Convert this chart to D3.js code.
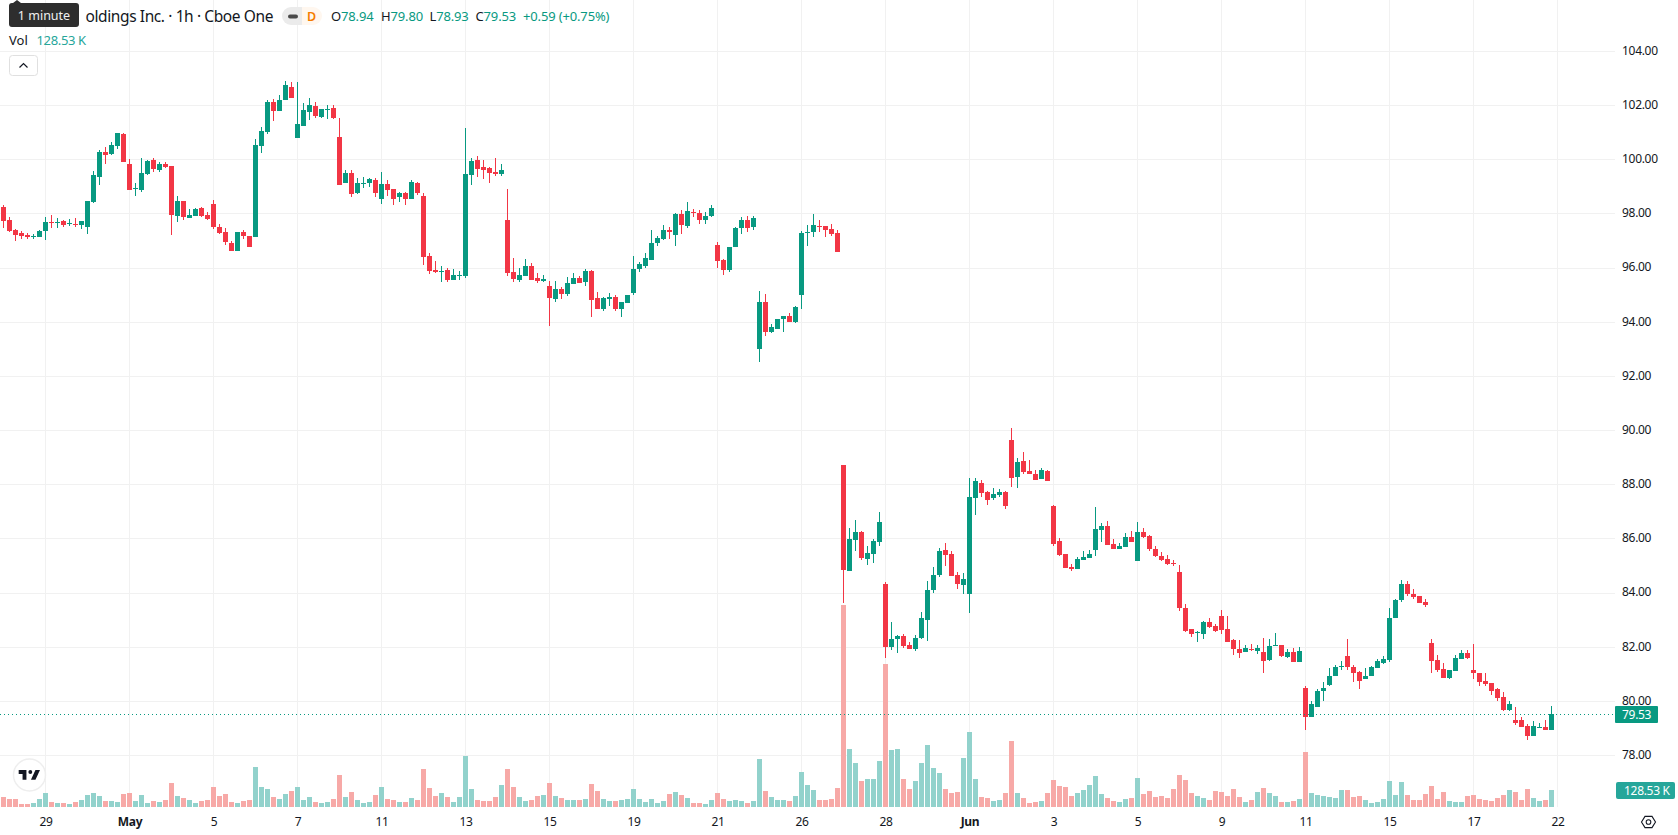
<!DOCTYPE html>
<html>
<head>
<meta charset="utf-8">
<title>Candlestick chart</title>
<script src="https://cdn.jsdelivr.net/npm/d3@7"></script>
<style>
  html, body { margin: 0; padding: 0; background: #fff; }
  svg { display: block; }
  text { font-family: "Noto Sans", sans-serif; fill: #131722; }
</style>
</head>
<body>
<svg id="chart" width="1678" height="835"></svg>
<script>
// Hourly open / high / low / close, one entry per session bar
const opens = [
98.23,97.75,97.38,97.27,97.20,97.14,97.12,97.35,97.68,97.66,
97.72,97.61,97.61,97.57,97.49,98.42,99.35,100.27,100.20,100.49,
100.94,99.83,98.91,98.86,99.46,99.98,99.60,99.83,99.75,97.90,
98.46,97.83,97.90,98.20,97.94,98.35,97.49,97.31,96.90,96.60,
97.31,97.16,97.12,100.49,101.01,102.12,101.79,102.20,102.68,100.79,
101.23,101.75,101.98,101.57,101.84,101.90,100.83,99.12,99.49,98.75,
99.09,99.12,99.23,98.53,99.09,98.90,98.60,98.75,98.53,99.12,
98.64,96.42,95.90,95.85,95.90,95.53,95.70,95.68,99.42,99.98,
99.72,99.68,99.53,99.46,97.75,95.83,95.53,95.68,96.05,95.60,
95.49,95.31,94.83,95.20,95.01,95.38,95.60,95.46,95.86,94.86,
94.49,94.83,94.90,94.46,94.68,95.05,95.94,96.05,96.27,96.90,
97.05,97.38,97.20,97.98,97.53,98.05,98.01,97.75,97.90,96.83,
96.27,95.90,96.75,97.46,97.75,97.49,93.01,94.72,93.64,93.75,
94.12,94.20,93.98,94.98,97.27,97.31,97.53,97.53,97.42,97.27,
88.72,84.79,85.94,86.23,85.23,85.42,85.86,84.31,81.98,82.27,
82.38,82.05,81.90,82.31,82.98,84.09,84.64,85.57,85.42,84.64,
84.27,83.94,87.49,88.05,87.72,87.49,87.60,87.72,89.64,88.27,
88.86,88.49,88.38,88.20,88.49,87.20,85.90,85.42,84.94,84.86,
85.20,85.27,85.57,86.31,86.46,85.79,85.60,85.68,86.05,85.16,
86.23,86.09,85.60,85.35,85.23,85.09,84.75,83.42,82.64,82.49,
82.46,82.90,82.75,83.12,82.64,82.23,81.90,81.79,81.90,81.85,
81.82,81.52,82.04,82.07,81.63,81.82,81.45,80.49,79.42,79.79,
80.38,80.60,80.93,81.28,81.67,81.26,81.08,80.79,80.90,81.23,
81.41,81.52,83.07,83.73,84.32,83.95,83.88,83.66,82.15,81.52,
81.19,80.86,81.12,81.56,81.78,81.15,81.01,80.75,80.67,80.42,
80.16,79.68,79.31,79.28,79.06,78.69,78.98,79.02,78.94];

const closes = [
97.72,97.35,97.20,97.16,97.12,97.16,97.35,97.68,97.65,97.69,
97.57,97.63,97.57,97.72,98.46,99.42,100.27,100.16,100.53,100.98,
99.90,98.86,98.94,99.49,99.94,99.64,99.83,99.72,97.94,98.46,
97.86,97.94,98.16,97.90,97.79,97.49,97.27,96.94,96.60,97.31,
97.16,96.75,100.53,101.05,102.12,101.79,102.20,102.75,102.27,101.31,
101.83,102.01,101.60,101.86,101.87,101.53,99.05,99.49,98.72,99.12,
99.11,99.27,98.75,99.09,98.86,98.53,98.75,98.53,99.16,98.75,
96.38,95.86,95.83,95.87,95.53,95.72,95.72,99.46,99.94,99.64,
99.60,99.49,99.46,99.60,95.79,95.57,95.72,96.05,95.53,95.49,
95.57,94.86,95.20,95.01,95.42,95.60,95.42,95.86,94.79,94.49,
94.86,94.90,94.46,94.72,94.98,95.94,96.12,96.35,96.90,97.09,
97.38,97.31,97.98,97.57,98.09,98.01,97.75,97.90,98.20,96.23,
95.90,96.75,97.46,97.75,97.46,97.83,94.72,93.64,93.79,94.12,
94.20,93.98,94.53,97.27,97.31,97.57,97.49,97.38,97.23,96.57,
84.83,85.98,86.23,85.27,85.46,85.90,86.60,81.98,82.27,82.38,
82.01,81.90,82.31,83.05,84.09,84.64,85.53,85.38,84.60,84.31,
84.49,87.53,88.12,87.68,87.42,87.64,87.72,87.20,88.23,88.83,
88.46,88.38,88.16,88.53,88.12,85.79,85.38,84.90,84.86,85.23,
85.31,85.42,86.35,86.46,85.75,85.60,85.72,86.05,85.86,86.23,
86.05,85.60,85.35,85.20,85.05,85.05,83.42,82.57,82.46,82.53,
82.90,82.72,82.57,82.60,82.16,81.90,81.75,81.94,81.86,81.96,
81.48,82.04,82.07,81.67,81.82,81.45,81.85,79.42,79.87,80.38,
80.49,80.93,81.26,81.30,81.26,81.04,80.75,80.93,81.26,81.48,
81.56,83.07,83.73,84.32,83.95,83.84,83.62,83.55,81.48,81.15,
80.86,81.15,81.60,81.78,81.60,81.01,80.71,80.64,80.38,80.12,
79.68,79.87,79.20,79.02,78.69,79.06,79.02,78.91,79.53];

const highs = [
98.31,97.86,97.42,97.35,97.27,97.23,97.38,97.86,97.94,97.83,
97.75,97.79,97.83,97.72,98.46,99.57,100.35,100.46,100.64,100.98,
100.98,100.01,99.12,100.05,99.98,100.05,99.90,99.90,99.75,98.64,
98.46,98.16,98.20,98.23,98.05,98.49,97.60,97.46,96.98,97.31,
97.38,97.16,100.75,101.20,102.20,102.23,102.38,102.90,102.86,102.86,
102.09,102.27,102.12,101.86,102.01,102.01,101.53,99.60,99.60,99.31,
99.35,99.31,99.31,99.53,99.23,98.90,98.79,98.79,99.23,99.16,
98.75,96.53,96.23,96.05,95.98,95.94,95.86,101.16,100.05,100.12,
99.98,99.72,100.05,99.83,98.90,96.35,95.98,96.31,96.16,95.79,
95.72,95.49,95.49,95.27,95.64,95.79,95.68,95.94,95.90,95.09,
94.90,95.05,94.98,94.72,94.98,96.42,96.20,96.53,97.38,97.16,
97.57,97.49,98.01,98.12,98.42,98.16,98.12,98.05,98.31,96.94,
96.31,96.75,97.49,97.86,97.90,97.90,95.12,95.01,93.90,94.12,
94.20,94.31,94.60,97.35,97.57,97.98,97.75,97.53,97.60,97.38,
88.72,86.38,86.68,86.27,85.72,85.98,86.98,84.38,82.90,82.42,
82.46,82.16,82.42,83.27,84.42,84.94,85.64,85.83,85.53,84.75,
84.72,88.23,88.23,88.16,87.75,87.86,87.83,87.75,90.09,88.98,
89.20,88.90,88.53,88.60,88.53,87.23,86.01,85.42,85.05,85.31,
85.53,85.57,87.16,86.57,86.64,85.98,85.83,86.20,86.27,86.60,
86.38,86.12,85.72,85.49,85.38,85.20,85.01,83.57,82.64,82.57,
82.94,83.05,82.83,83.35,83.12,82.27,82.23,82.05,82.09,82.07,
82.33,82.29,82.52,82.07,81.93,81.96,82.00,80.56,80.01,80.45,
80.71,81.23,81.34,81.48,82.29,81.34,81.12,81.23,81.30,81.56,
81.67,83.44,83.77,84.47,84.43,84.13,83.88,83.77,82.29,81.71,
81.41,81.15,81.71,81.89,81.89,82.11,81.04,81.01,80.67,80.49,
80.31,79.98,79.79,79.42,79.13,79.24,79.20,79.28,79.80];

const lows = [
97.46,97.31,96.98,97.05,97.05,97.05,97.12,97.01,97.46,97.46,
97.49,97.53,97.49,97.42,97.23,98.38,99.05,99.83,100.16,100.38,
99.90,98.86,98.64,98.79,99.42,99.53,99.53,99.68,97.20,97.68,
97.75,97.83,97.90,97.86,97.75,97.42,97.23,96.83,96.60,96.60,
97.05,96.75,97.12,100.23,100.94,101.42,101.79,102.20,102.27,100.79,
101.23,101.46,101.53,101.53,101.49,101.49,99.05,99.12,98.60,98.72,
98.94,98.98,98.60,98.35,98.64,98.31,98.42,98.31,98.53,98.68,
96.09,95.75,95.79,95.46,95.46,95.53,95.53,95.60,99.05,99.35,
99.27,99.12,99.38,99.38,95.68,95.46,95.46,95.68,95.53,95.42,
95.46,93.83,94.72,94.83,94.94,95.38,95.42,95.31,94.16,94.49,
94.38,94.60,94.38,94.16,94.68,94.98,95.83,95.98,96.27,96.79,
97.01,97.05,96.79,97.23,97.46,97.86,97.60,97.60,97.86,95.98,
95.72,95.83,96.75,97.23,97.31,97.38,92.53,93.49,93.57,93.72,
93.64,93.98,93.94,94.49,96.79,97.12,97.31,97.12,97.16,96.57,
83.60,84.79,85.53,85.20,85.01,85.09,85.72,81.57,81.86,81.75,
81.94,81.90,81.83,82.27,82.20,83.98,84.57,84.98,84.60,84.12,
83.94,83.23,86.86,87.53,87.23,87.42,87.53,87.09,87.90,87.86,
88.38,88.38,88.16,88.20,88.12,85.72,85.35,84.90,84.79,84.86,
85.20,85.27,85.35,85.86,85.75,85.60,85.60,85.68,85.86,85.16,
86.01,85.53,85.31,85.16,85.01,84.98,83.31,82.53,82.35,82.16,
82.27,82.68,82.53,82.46,82.16,81.68,81.60,81.79,81.83,81.74,
81.01,81.48,82.04,81.63,81.60,81.45,81.45,78.91,79.42,79.79,
80.01,80.53,80.93,81.15,81.15,80.71,80.45,80.79,80.90,81.23,
81.37,81.45,83.07,83.66,83.88,83.77,83.62,83.47,81.04,81.08,
80.86,80.82,81.12,81.56,81.56,80.82,80.53,80.53,80.23,79.98,
79.64,79.61,79.09,79.02,78.54,78.69,78.98,78.91,78.93];

// Traded volume per bar, in thousands of shares
const volumes = [
75,59,59,21,21,28,59,105,36,28,
28,21,36,51,90,105,82,44,44,36,
98,105,44,90,28,44,36,51,182,82,
67,51,28,44,51,152,82,98,36,28,
44,51,306,152,136,75,59,98,121,152,
51,75,36,28,36,59,244,75,113,51,
28,36,90,152,59,51,36,36,67,51,
290,144,82,105,75,36,75,391,136,51,
44,44,75,167,290,152,75,44,51,82,
90,182,82,69,54,54,54,62,177,123,
62,46,46,54,62,139,62,39,62,31,
46,100,116,93,69,31,31,23,54,108,
62,46,54,46,31,46,370,123,77,54,
54,46,85,270,170,131,54,54,62,146,
1557,447,339,200,216,216,355,1100,439,447,
216,139,200,339,478,301,262,139,108,116,
378,578,216,77,69,46,54,108,509,108,
69,31,39,46,108,208,162,154,85,108,
131,170,239,100,69,46,39,59,67,221,
98,121,75,82,67,136,244,206,105,82,
67,51,121,113,82,136,75,36,51,113,
144,105,82,36,36,44,59,421,105,90,
82,75,67,128,128,75,82,51,28,36,
59,198,90,190,90,51,51,98,159,59,
113,44,36,36,82,90,59,51,44,67,
90,128,113,51,136,67,44,51,128.53];

// Date labels on the time axis and the bar each one sits under
const timeTickBars = [7, 21, 35, 49, 63, 77, 91, 105, 119, 133, 147, 161, 175, 189, 203, 217, 231, 245, 259];
const timeTickLabels = ["29", "May", "5", "7", "11", "13", "15", "19", "21", "26", "28", "Jun", "3", "5", "9", "11", "15", "17", "22"];
const monthLabels = ["May", "Jun"];

const priceTicks = [78, 80, 82, 84, 86, 88, 90, 92, 94, 96, 98, 100, 102, 104];

const legendTitle = "oldings Inc. · 1h · Cboe One";
const legendOhlc = [["O", "78.94"], ["H", "79.80"], ["L", "78.93"], ["C", "79.53"]];
const legendChange = "+0.59 (+0.75%)";
const lastVolumeLabel = "128.53 K";
const lastPrice = closes[closes.length - 1];

const bars = opens.map((open, i) => ({
  i, open, close: closes[i], high: highs[i], low: lows[i], volume: volumes[i],
  up: closes[i] >= open
}));

const UP = "#089981", DOWN = "#f23645";
const VOL_UP = "#92d2cc", VOL_DOWN = "#f7a9a7";
const GRID = "#f1f1f1";
const PANE_RIGHT = 1615, PANE_BOTTOM = 807;
const AXIS_FONT = 12, AXIS_TRACKING = -0.3;

// Bars are 6px apart; the last tick lands one slot past the newest bar
const x = d3.scaleLinear().domain([0, 259]).range([3.5, 1557.5]);
const y = d3.scaleLinear().domain([78, 104]).range([755, 51]);
const yVol = d3.scaleLinear().domain([0, 1557]).range([PANE_BOTTOM, 605]);

const svg = d3.select("#chart");

// Grid
const grid = svg.append("g").attr("stroke", GRID).attr("stroke-width", 1).attr("shape-rendering", "crispEdges");
grid.selectAll("line.v").data(timeTickBars).join("line").attr("class", "v")
  .attr("x1", d => x(d)).attr("x2", d => x(d)).attr("y1", 0).attr("y2", PANE_BOTTOM);
grid.selectAll("line.h").data(priceTicks).join("line").attr("class", "h")
  .attr("x1", 0).attr("x2", PANE_RIGHT).attr("y1", d => Math.round(y(d)) + 0.5).attr("y2", d => Math.round(y(d)) + 0.5);

// Volume histogram along the bottom of the pane
svg.append("g").attr("shape-rendering", "crispEdges")
  .selectAll("rect").data(bars).join("rect")
  .attr("x", d => x(d.i) - 2.5).attr("width", 5)
  .attr("y", d => yVol(d.volume)).attr("height", d => PANE_BOTTOM - yVol(d.volume))
  .attr("fill", d => d.up ? VOL_UP : VOL_DOWN);

// Candles: wick first, then body on top
const candles = svg.append("g").attr("shape-rendering", "crispEdges")
  .selectAll("g").data(bars).join("g")
  .attr("fill", d => d.up ? UP : DOWN);
candles.append("rect")
  .attr("x", d => x(d.i) - 0.5).attr("width", 1)
  .attr("y", d => y(d.high)).attr("height", d => y(d.low) - y(d.high));
candles.append("rect")
  .attr("x", d => x(d.i) - 2.5).attr("width", 5)
  .attr("y", d => y(Math.max(d.open, d.close)))
  .attr("height", d => Math.max(1, Math.abs(y(d.open) - y(d.close))));

// Dotted marker at the last traded price
svg.append("line")
  .attr("x1", 0).attr("x2", PANE_RIGHT)
  .attr("y1", Math.round(y(lastPrice)) + 0.5).attr("y2", Math.round(y(lastPrice)) + 0.5)
  .attr("stroke", UP).attr("stroke-width", 1).attr("stroke-dasharray", "1 3")
  .attr("shape-rendering", "crispEdges");

const axisText = g => g.selectAll("text")
  .style("font-family", '"Noto Sans", sans-serif')
  .attr("font-size", AXIS_FONT).attr("letter-spacing", AXIS_TRACKING).attr("fill", "#131722");

// Price axis
const priceAxis = d3.axisRight(y).tickValues(priceTicks).tickSize(0).tickPadding(0).tickFormat(d => d.toFixed(2));
svg.append("g").attr("transform", "translate(1622,-0.5)").call(priceAxis)
  .call(g => g.select(".domain").remove())
  .call(axisText);

// Time axis
const timeAxis = d3.axisBottom(x).tickValues(timeTickBars).tickSize(0).tickPadding(0)
  .tickFormat(d => timeTickLabels[timeTickBars.indexOf(d)]);
svg.append("g").attr("transform", "translate(0,817)").call(timeAxis)
  .call(g => g.select(".domain").remove())
  .call(axisText)
  .call(g => g.selectAll("text")
    .attr("font-weight", d => monthLabels.includes(timeTickLabels[timeTickBars.indexOf(d)]) ? 700 : 400));

// Last price and last volume badges on the price scale
svg.append("rect").attr("x", 1615).attr("y", Math.round(y(lastPrice)) - 8).attr("width", 43).attr("height", 17).attr("rx", 1).attr("fill", UP);
svg.append("text").attr("x", 1622).attr("y", Math.round(y(lastPrice)) + 4.5)
  .attr("font-size", AXIS_FONT).attr("letter-spacing", AXIS_TRACKING).style("fill", "#fff").text(lastPrice.toFixed(2));

svg.append("rect").attr("x", 1616).attr("y", 782).attr("width", 59).attr("height", 17).attr("rx", 2).attr("fill", "#26a69a");
svg.append("text").attr("x", 1624).attr("y", 795)
  .attr("font-size", AXIS_FONT).attr("letter-spacing", AXIS_TRACKING).style("fill", "#fff").text(lastVolumeLabel);

// Scale settings icon
const gear = svg.append("g").attr("transform", "translate(1648.5,822)").attr("fill", "none").attr("stroke", "#131722").attr("stroke-width", 1.1);
gear.append("path").attr("d", "M-7 0L-3.5 -5.6H3.5L7 0L3.5 5.6H-3.5Z");
gear.append("circle").attr("r", 2.3);

// Brand badge in the corner of the pane
svg.append("circle").attr("cx", 29.5).attr("cy", 775).attr("r", 16).attr("fill", "#fff").attr("stroke", "#eeeeee").attr("stroke-width", 1.5);
const logo = svg.append("g").attr("transform", "translate(17.4,766.2) scale(0.645)").attr("fill", "#131722");
logo.append("path").attr("d", "M14 6H2v6h6v9h6V6Z");
logo.append("path").attr("d", "M28 21h-7l7-15h7l-7 15Z");
logo.append("circle").attr("cx", 20).attr("cy", 9).attr("r", 3);

// Legend: title row
svg.append("text").attr("x", 273).attr("y", 21.5).attr("text-anchor", "end")
  .attr("font-size", 15.5).attr("letter-spacing", -0.4).text(legendTitle);

// Interval pill
svg.append("path").attr("d", "M302 7H291a9 9 0 0 0 0 18H302Z").attr("fill", "#ebebeb");
svg.append("path").attr("d", "M302 7H313a9 9 0 0 1 0 18H302Z").attr("fill", "#fff7ef");
svg.append("rect").attr("x", 288).attr("y", 14.5).attr("width", 10).attr("height", 4).attr("rx", 2).attr("fill", "#4a4a4a");
svg.append("text").attr("x", 311.5).attr("y", 21).attr("text-anchor", "middle").attr("font-size", 12.5).attr("font-weight", 600).style("fill", "#f57c00").text("D");

// OHLC readout
const ohlcX = [331, 381, 429.5, 475.5];
legendOhlc.forEach(([k, v], n) => {
  const t = svg.append("text").attr("x", ohlcX[n]).attr("y", 21).attr("font-size", 13).attr("letter-spacing", -0.15);
  t.append("tspan").text(k);
  t.append("tspan").style("fill", UP).text(v);
});
svg.append("text").attr("x", 523).attr("y", 21).attr("font-size", 13).attr("letter-spacing", -0.15).style("fill", UP).text(legendChange);

// Legend: volume row
svg.append("text").attr("x", 9).attr("y", 45).attr("font-size", 13).text("Vol");
svg.append("text").attr("x", 36.5).attr("y", 45).attr("font-size", 13).attr("letter-spacing", -0.35).style("fill", "#26a69a").text(lastVolumeLabel);

// Collapse button
svg.append("rect").attr("x", 9.5).attr("y", 55.5).attr("width", 28).attr("height", 20).attr("rx", 3)
  .attr("fill", "#fff").attr("stroke", "#e0e0e0");
svg.append("path").attr("d", "M19.5 67.5L23.5 63.5L27.5 67.5").attr("fill", "none").attr("stroke", "#131722").attr("stroke-width", 1.2);

// Hover tooltip over the start of the title
svg.append("path").attr("d", "M9 6a3 3 0 0 1 3 -3H13L17 0L21 3H76a3 3 0 0 1 3 3V24a3 3 0 0 1 -3 3H12a3 3 0 0 1 -3 -3Z").attr("fill", "#2e2e2e");
svg.append("text").attr("x", 44).attr("y", 20).attr("text-anchor", "middle").attr("font-size", 12.5).style("fill", "#f0f0f0").text("1 minute");
</script>
</body>
</html>
